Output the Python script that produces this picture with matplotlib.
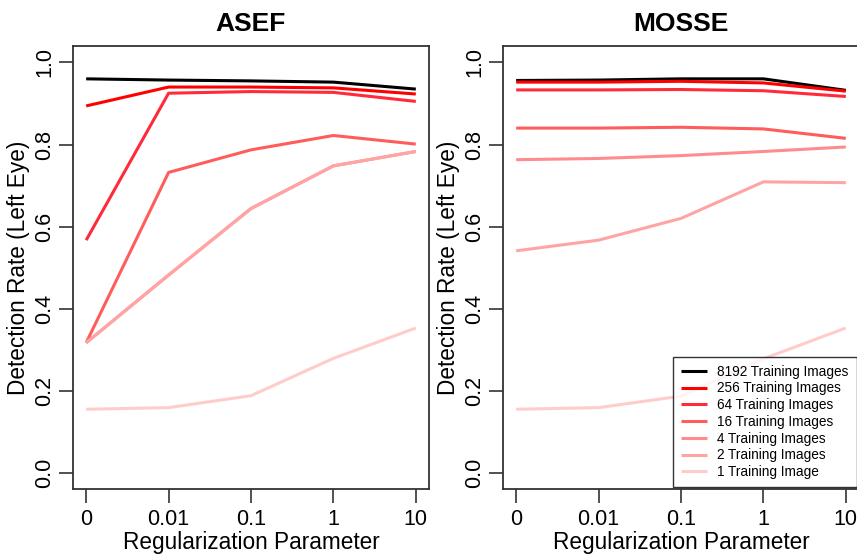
import numpy as np
import matplotlib
matplotlib.use("Agg")
import matplotlib.pyplot as plt

plt.rcParams['font.family'] = ['Liberation Sans', 'DejaVu Sans']

reg_labels = ['0', '0.01', '0.1', '1', '10']
series_names = ['8192 Training Images', '256 Training Images', '64 Training Images',
                '16 Training Images', '4 Training Images', '2 Training Images',
                '1 Training Image']
colors = ['#000000', '#ff0000', '#ff2a3a', '#ff5c5c', '#ff8c8c', '#ffa4a4', '#ffcccc']

asef_8192 = [0.960, 0.957, 0.955, 0.952, 0.935]
asef_256 = [0.894, 0.940, 0.940, 0.938, 0.923]
asef_64 = [0.567, 0.925, 0.929, 0.927, 0.905]
asef_16 = [0.317, 0.732, 0.787, 0.822, 0.801]
asef_4 = [0.317, 0.482, 0.644, 0.748, 0.783]
asef_2 = [0.317, 0.482, 0.644, 0.748, 0.783]
asef_1 = [0.155, 0.159, 0.188, 0.279, 0.353]

mosse_8192 = [0.956, 0.957, 0.960, 0.960, 0.932]
mosse_256 = [0.952, 0.952, 0.954, 0.950, 0.930]
mosse_64 = [0.933, 0.933, 0.934, 0.931, 0.917]
mosse_16 = [0.840, 0.840, 0.842, 0.838, 0.815]
mosse_4 = [0.763, 0.766, 0.773, 0.783, 0.794]
mosse_2 = [0.541, 0.567, 0.620, 0.709, 0.707]
mosse_1 = [0.155, 0.159, 0.187, 0.278, 0.353]

asef = [asef_8192, asef_256, asef_64, asef_16, asef_4, asef_2, asef_1]
mosse = [mosse_8192, mosse_256, mosse_64, mosse_16, mosse_4, mosse_2, mosse_1]

fig = plt.figure(figsize=(8.57, 5.59), dpi=100)
ax1 = fig.add_axes([73/857, 69.7/559, 356/857, 443.3/559])
ax2 = fig.add_axes([503/857, 69.7/559, 356/857, 443.3/559])

x = np.arange(len(reg_labels))
for ax, data, title in [(ax1, asef, 'ASEF'), (ax2, mosse, 'MOSSE')]:
    for vals, c, name in zip(data, colors, series_names):
        ax.plot(x, vals, color=c, lw=2.2, label=name, solid_capstyle='butt')
    ax.set_xlim(-0.16, 4.16)
    ax.set_ylim(-0.04, 1.04)
    ax.set_xticks(x)
    ax.set_xticklabels(reg_labels)
    ax.set_yticks([0, 0.2, 0.4, 0.6, 0.8, 1.0])
    ax.set_yticklabels(['0.0', '0.2', '0.4', '0.6', '0.8', '1.0'], rotation=90, va='center')
    ax.tick_params(axis='both', direction='out', length=10, width=1.2, labelsize=15.5,
                   color='#333333')
    ax.tick_params(axis='x', pad=4)
    ax.tick_params(axis='y', pad=3)
    for s in ax.spines.values():
        s.set_linewidth(1.3)
        s.set_color('#333333')
    ax.set_xlabel('Regularization Parameter', fontsize=16.3, labelpad=1)
    ax.set_ylabel('Detection Rate (Left Eye)', fontsize=16.3, labelpad=3)
    ax.set_title(title, fontsize=19, fontweight='bold', pad=11)

leg = ax2.legend(loc='lower right', fontsize=9.8, frameon=True, fancybox=False,
                 borderaxespad=0.15, handlelength=1.9, handletextpad=0.8,
                 labelspacing=0.2, borderpad=0.6)
leg.get_frame().set_edgecolor('black')
leg.get_frame().set_linewidth(1.0)

fig.savefig('out.png', dpi=100)
